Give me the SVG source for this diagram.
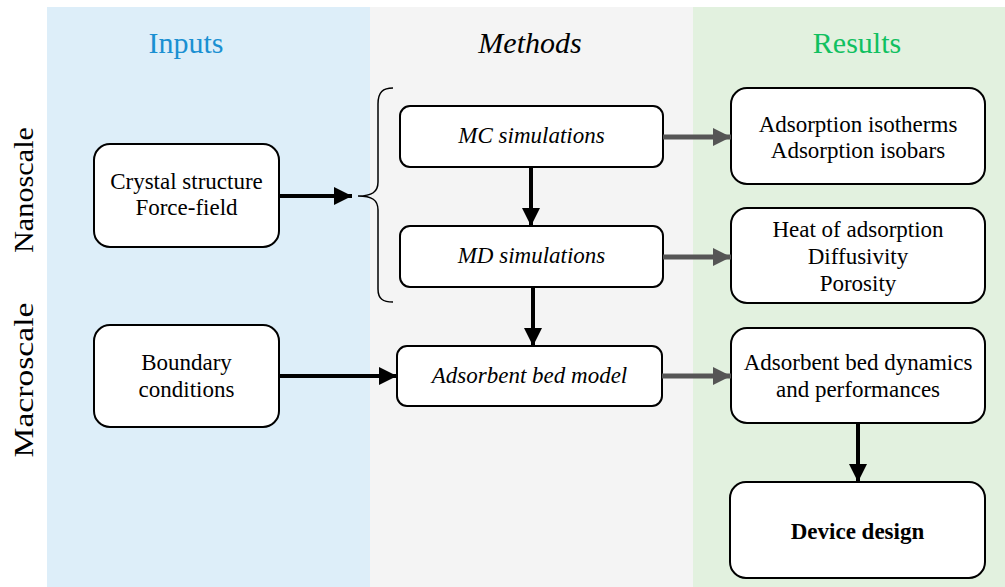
<svg xmlns="http://www.w3.org/2000/svg" width="1005" height="587" viewBox="0 0 1005 587">
<defs>
<style>
.box{fill:#fff;stroke:#000;stroke-width:2}
.t{font-family:"Liberation Serif","Times New Roman",serif;font-size:23px;fill:#000;text-anchor:middle}
.i{font-style:italic}
.h{font-family:"Liberation Serif","Times New Roman",serif;font-size:30px;text-anchor:middle}
.s{font-family:"Liberation Serif","Times New Roman",serif;font-size:28px;text-anchor:middle;fill:#000}
.blk{stroke:#000;stroke-width:4;fill:none}
.gry{stroke:#555;stroke-width:5;fill:none}
</style>
<marker id="ab" viewBox="0 0 10 10" refX="10" refY="5" markerWidth="4.5" markerHeight="4.5" markerUnits="strokeWidth" orient="auto"><path d="M0,0L10,5L0,10z" fill="#000"/></marker>
<marker id="ag" viewBox="0 0 10 10" refX="10" refY="5" markerWidth="3.6" markerHeight="3.6" markerUnits="strokeWidth" orient="auto"><path d="M0,0L10,5L0,10z" fill="#555"/></marker>
</defs>
<rect x="0" y="0" width="1005" height="587" fill="#fff"/>
<g id="panels">
<rect x="47" y="7" width="323" height="580" fill="#ddeef9"/>
<rect x="370" y="7" width="323" height="580" fill="#f4f4f4"/>
<rect x="693" y="7" width="312" height="580" fill="#e2f1df"/>
<text class="h" x="186" y="53" fill="#1a90d2">Inputs</text>
<text class="h i" x="530" y="53" fill="#000">Methods</text>
<text class="h" x="857" y="53" fill="#10c060">Results</text>
</g>
<g id="side-labels">
<text class="s" transform="translate(33,190) rotate(-90)" textLength="126" lengthAdjust="spacingAndGlyphs">Nanoscale</text>
<text class="s" transform="translate(33,380) rotate(-90)" textLength="155" lengthAdjust="spacingAndGlyphs">Macroscale</text>
</g>
<g id="crystal"><rect class="box" x="94" y="144" width="185" height="103" rx="16"/>
<text class="t" x="186.5" y="189">Crystal structure</text><text class="t" x="186.5" y="215">Force-field</text></g>
<g id="boundary"><rect class="box" x="94" y="325" width="185" height="102" rx="16"/>
<text class="t" x="186.5" y="370">Boundary</text><text class="t" x="186.5" y="397">conditions</text></g>
<g id="mc"><rect class="box" x="400" y="106" width="263" height="61" rx="10"/>
<text class="t i" x="531.5" y="143">MC simulations</text></g>
<g id="md"><rect class="box" x="400" y="226" width="263" height="61" rx="10"/>
<text class="t i" x="531.5" y="263">MD simulations</text></g>
<g id="bed"><rect class="box" x="397" y="346" width="265" height="60" rx="10"/>
<text class="t i" x="529.5" y="383">Adsorbent bed model</text></g>
<g id="iso"><rect class="box" x="731" y="88" width="254" height="96" rx="16"/>
<text class="t" x="858" y="132">Adsorption isotherms</text><text class="t" x="858" y="158">Adsorption isobars</text></g>
<g id="heat"><rect class="box" x="731" y="208" width="254" height="95" rx="16"/>
<text class="t" x="858" y="237">Heat of adsorption</text><text class="t" x="858" y="264">Diffusivity</text><text class="t" x="858" y="291">Porosity</text></g>
<g id="dyn"><rect class="box" x="731" y="328" width="254" height="95" rx="16"/>
<text class="t" x="858" y="370">Adsorbent bed dynamics</text><text class="t" x="858" y="397">and performances</text></g>
<g id="device"><rect class="box" x="730" y="482" width="255" height="96" rx="16"/>
<text class="t" x="857.5" y="539" font-weight="bold">Device design</text></g>
<g id="connectors">
<path d="M393,88 C383,88 378,92 378,104 L378,182 C378,192 372,196 358,196 C372,196 378,200 378,210 L378,289 C378,299 383,302 393,302" fill="none" stroke="#000" stroke-width="1.5"/>
<line class="blk" x1="279" y1="196" x2="352" y2="196" marker-end="url(#ab)"/>
<line class="blk" x1="279" y1="376" x2="397" y2="376" marker-end="url(#ab)"/>
<line class="blk" x1="531" y1="167" x2="531" y2="226" marker-end="url(#ab)"/>
<line class="blk" x1="533" y1="287" x2="533" y2="346" marker-end="url(#ab)"/>
<line class="blk" x1="858" y1="423" x2="858" y2="482" marker-end="url(#ab)"/>
<line class="gry" x1="663" y1="137" x2="731" y2="137" marker-end="url(#ag)"/>
<line class="gry" x1="663" y1="257" x2="731" y2="257" marker-end="url(#ag)"/>
<line class="gry" x1="662" y1="376" x2="731" y2="376" marker-end="url(#ag)"/>
</g>
</svg>
